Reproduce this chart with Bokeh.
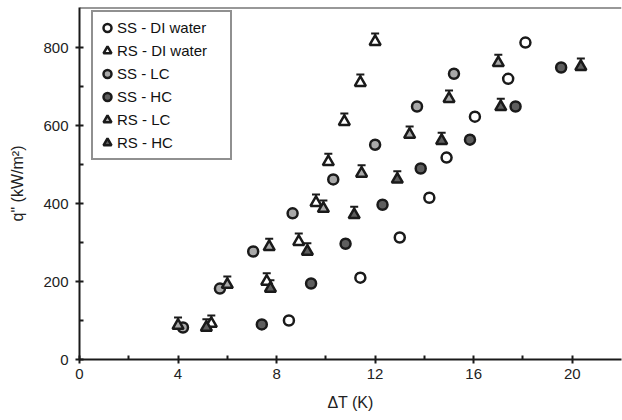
from bokeh.plotting import figure
from bokeh.models import (ColumnDataSource, Whisker, TeeHead, Legend, LegendItem,
                          Span, Range1d, FixedTicker)
from bokeh.embed import file_html
from bokeh.resources import INLINE

# ---- data ----
x_ticks = [0, 4, 8, 12, 16, 20]
x_minor = [2, 6, 10, 14, 18]
y_ticks = [0, 200, 400, 600, 800]
y_minor = [100, 300, 500, 700]

ss_di_dt = [8.5, 11.4, 13.0, 14.2, 14.9, 16.05, 17.4, 18.1]
ss_di_q = [100, 210, 313, 415, 518, 623, 720, 813]
rs_di_dt = [5.35, 7.6, 8.9, 9.6, 10.1, 10.75, 11.4, 12.0]
rs_di_q = [92, 200, 302, 402, 507, 610, 710, 815]
ss_lc_dt = [4.2, 5.7, 7.05, 8.65, 10.3, 12.0, 13.7, 15.2]
ss_lc_q = [82, 182, 277, 375, 462, 551, 649, 733]
ss_hc_dt = [7.4, 9.4, 10.8, 12.3, 13.85, 15.85, 17.7, 19.55]
ss_hc_q = [90, 195, 297, 397, 490, 564, 649, 749]
rs_lc_dt = [4.0, 6.0, 7.7, 9.9, 11.45, 13.4, 15.0, 17.0]
rs_lc_q = [87, 192, 289, 387, 477, 577, 669, 761]
rs_hc_dt = [5.15, 7.75, 9.25, 11.15, 12.9, 14.7, 17.1, 20.35]
rs_hc_q = [82, 182, 277, 371, 462, 561, 648, 751]

ss_err = 11   # kW/m2 uncertainty (circles)
rs_err = 21   # kW/m2 uncertainty (triangles)

series = [
    ("SS - DI water", ss_di_dt, ss_di_q, "circle", "white", ss_err),
    ("RS - DI water", rs_di_dt, rs_di_q, "triangle", "white", rs_err),
    ("SS - LC", ss_lc_dt, ss_lc_q, "circle", "#a8a8a8", ss_err),
    ("SS - HC", ss_hc_dt, ss_hc_q, "circle", "#5e5e5e", ss_err),
    ("RS - LC", rs_lc_dt, rs_lc_q, "triangle", "#a8a8a8", rs_err),
    ("RS - HC", rs_hc_dt, rs_hc_q, "triangle", "#5e5e5e", rs_err),
]

FONT = "Liberation Sans"
INK = "#1a1a1a"

p = figure(width=622, height=420, output_backend="svg", toolbar_location=None,
           x_range=Range1d(0, 22), y_range=Range1d(0, 903),
           min_border_left=79, min_border_right=1, min_border_top=7,
           min_border_bottom=61)
p.grid.visible = False
p.outline_line_color = None
p.background_fill_color = "white"
p.border_fill_color = "white"

for ax in (p.xaxis[0], p.yaxis[0]):
    ax.axis_line_width = 2
    ax.axis_line_color = INK
    ax.major_tick_line_width = 2
    ax.major_tick_line_color = INK
    ax.minor_tick_line_width = 2
    ax.minor_tick_line_color = INK
    ax.major_tick_in = 4
    ax.major_tick_out = 4
    ax.minor_tick_in = 4
    ax.minor_tick_out = 0
    ax.major_label_text_font = FONT
    ax.major_label_text_font_size = "15px"
    ax.major_label_text_color = "#222222"
    ax.axis_label_text_font = FONT
    ax.axis_label_text_font_style = "normal"
    ax.axis_label_text_font_size = "16px"
    ax.axis_label_text_color = "#222222"

p.xaxis.ticker = FixedTicker(ticks=x_ticks, minor_ticks=x_minor)
p.yaxis.ticker = FixedTicker(ticks=y_ticks, minor_ticks=y_minor)
p.xaxis.axis_label = "ΔT (K)"
p.yaxis.axis_label = "q\" (kW/m²)"
p.xaxis.major_label_standoff = 5
p.xaxis.axis_label_standoff = 12
p.yaxis.major_label_standoff = 7
p.yaxis.axis_label_standoff = 14

# top frame line
p.add_layout(Span(location=903, dimension="width", line_color="#333333", line_width=2))

items = []
for label, xs, ys, marker, fill, err in series:
    src = ColumnDataSource(dict(x=xs, y=ys,
                                up=[v + err for v in ys],
                                lo=[v - err for v in ys] if marker == "circle" else list(ys)))
    if marker == "circle":
        w = Whisker(source=src, base="x", upper="up", lower="lo", dimension="height",
                    line_color=INK, line_width=2,
                    upper_head=TeeHead(size=6, line_color=INK, line_width=2),
                    lower_head=TeeHead(size=6, line_color=INK, line_width=2))
        size = 10
    else:
        w = Whisker(source=src, base="x", upper="up", lower="lo", dimension="height",
                    line_color=INK, line_width=2,
                    upper_head=TeeHead(size=8, line_color=INK, line_width=2),
                    lower_head=None)
        size = 11
    p.add_layout(w)
    r = p.scatter("x", "y", source=src, marker=marker, size=size,
                  fill_color=fill, line_color=INK, line_width=2.5)
    items.append(LegendItem(label=label, renderers=[r]))

legend = Legend(items=items, location=(12, 199), margin=0, padding=4,
                spacing=0, glyph_width=20, glyph_height=23, label_height=23,
                label_width=109, label_standoff=0,
                label_text_font=FONT, label_text_font_size="15px",
                label_text_color="#111111",
                border_line_color="#222222", border_line_width=2,
                background_fill_color="white", background_fill_alpha=1.0)
p.add_layout(legend)

open("out.html", "w").write(file_html(p, INLINE))
